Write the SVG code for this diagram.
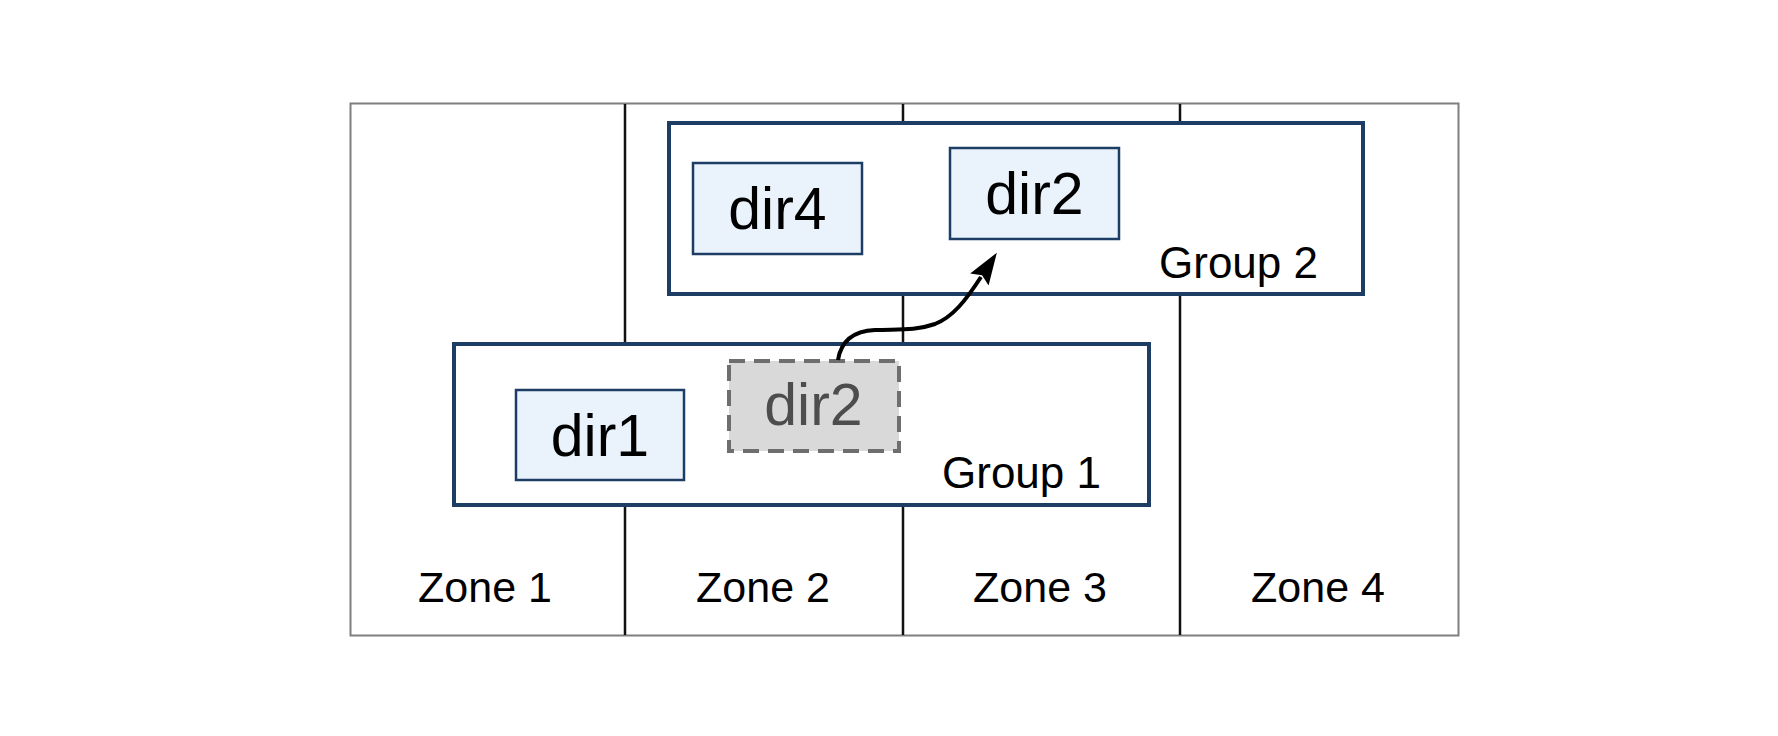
<svg xmlns="http://www.w3.org/2000/svg" width="1778" height="736" viewBox="0 0 1778 736">
<style>
.frame{fill:none;stroke:#7f7f7f;stroke-width:2}
.div{stroke:#111;stroke-width:2.5}
.grp{fill:#fff;stroke:#1e3d64;stroke-width:4}
.node{fill:#eaf3fc;stroke:#1e3d64;stroke-width:2.5}
.ghost{fill:#d9d9d9;stroke:#6e6e6e;stroke-width:4;stroke-dasharray:16 9}
.t{font-family:"Liberation Sans",Arial,sans-serif;fill:#000}
.big{font-size:59px;text-anchor:middle}
.lab{font-size:43px}
.glab{font-size:44px;text-anchor:end}
.mid{text-anchor:middle}
</style>
<defs>
<marker id="ah" markerWidth="34" markerHeight="24" refX="3" refY="11" orient="auto" markerUnits="userSpaceOnUse">
<path d="M0,0 L32,11 L0,22 L5,11 Z" fill="#000"/>
</marker>
</defs>
<rect width="1778" height="736" fill="#fff"/>
<g id="zones">
<rect class="frame" x="350.5" y="103.5" width="1108" height="532"/>
<line class="div" x1="625" y1="104" x2="625" y2="635"/>
<line class="div" x1="903" y1="104" x2="903" y2="635"/>
<line class="div" x1="1180" y1="104" x2="1180" y2="635"/>
<text class="t lab mid" x="485" y="602">Zone 1</text>
<text class="t lab mid" x="763" y="602">Zone 2</text>
<text class="t lab mid" x="1040" y="602">Zone 3</text>
<text class="t lab mid" x="1318" y="602">Zone 4</text>
</g>
<g id="group2">
<rect class="grp" x="669" y="123" width="694" height="171"/>
<text class="t glab" x="1318" y="278">Group 2</text>
</g>
<g id="group1">
<rect class="grp" x="454" y="344" width="695" height="161"/>
<text class="t glab" x="1101" y="488">Group 1</text>
</g>
<g id="dir4">
<rect class="node" x="693" y="163" width="169" height="91"/>
<text class="t big" x="777.5" y="229">dir4</text>
</g>
<g id="dir2-new">
<rect class="node" x="950" y="148" width="169" height="91"/>
<text class="t big" x="1034.5" y="214">dir2</text>
</g>
<g id="dir1">
<rect class="node" x="516" y="390" width="168" height="90"/>
<text class="t big" x="600" y="456">dir1</text>
</g>
<g id="dir2-old">
<rect class="ghost" x="729" y="361" width="170" height="90"/>
<text class="t big" x="813.5" y="425" style="fill:#4d4d4d">dir2</text>
</g>
<g id="connectors">
<path d="M 838 360 C 841 341, 853 331, 875 330 C 898 329, 915 331, 935 324 C 953 317, 966 300, 981 277" fill="none" stroke="#000" stroke-width="4" marker-end="url(#ah)"/>
</g>
</svg>
